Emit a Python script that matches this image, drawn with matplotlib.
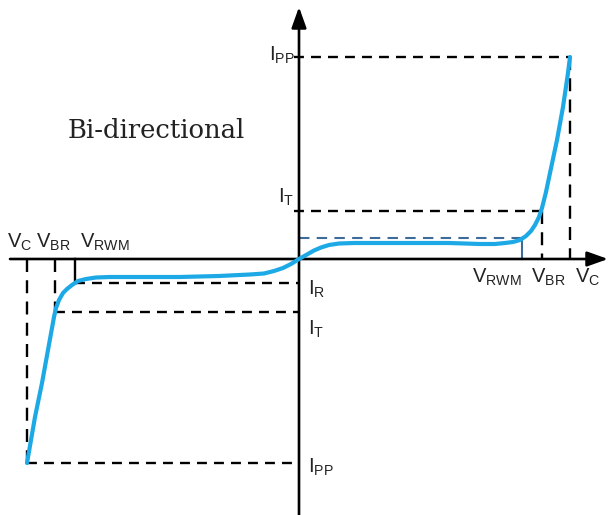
import matplotlib
matplotlib.use("Agg")
import matplotlib.pyplot as plt

plt.rcParams['font.family'] = ['Liberation Sans', 'DejaVu Sans']
plt.rcParams['mathtext.default'] = 'regular'

# ---- data (voltage / current in diagram units, origin at axes crossing) ----
v_levels_pos = {"VRWM": 223, "VBR": 243, "VC": 271}
v_levels_neg = {"VRWM": -224, "VBR": -244, "VC": -272}
i_levels_pos = {"IR": 21, "IT": 48, "IPP": 202}
i_levels_neg = {"IR": -24, "IT": -53, "IPP": -204}

curve_v = [-272, -264, -257, -251, -245, -243, -240, -236, -232, -227, -221,
           -213, -203, -189, -160, -120, -80, -49, -35, -25, -16, -8, 0,
           8, 15, 22, 30, 40, 55, 100, 150, 181, 196, 206, 214, 221, 227,
           232, 236, 240, 243, 247, 251, 258, 264, 269, 271]
curve_i = [-204, -158, -124, -91, -58, -49, -41, -34, -30, -26, -22,
           -20, -18.5, -18, -18, -18, -17, -15.5, -14.5, -12, -9, -5, 0,
           4.5, 8.5, 11.5, 14, 15.5, 16, 16, 16, 15, 15, 16, 17, 19, 23,
           28, 34, 42, 51, 67, 86, 119, 152, 186, 202]

fig = plt.figure(figsize=(6.09, 5.15), dpi=100)
ax = fig.add_axes([0, 0, 1, 1])
ax.set_xlim(-299, 310)
ax.set_ylim(-256, 259)
ax.axis('off')

black = 'k'
dash = (0, (4.2, 3.0))
vdash = (0, (5.5, 3.5))
lw_d = 1.7

# axes with arrows
ax.annotate('', xy=(309, 0), xytext=(-289, 0),
            arrowprops=dict(arrowstyle='-|>,head_length=0.7,head_width=0.25',
                            lw=1.9, color=black, mutation_scale=18,
                            shrinkA=0, shrinkB=0))
ax.annotate('', xy=(0, 252), xytext=(0, -260),
            arrowprops=dict(arrowstyle='-|>,head_length=0.7,head_width=0.25',
                            lw=1.9, color=black, mutation_scale=18,
                            shrinkA=0, shrinkB=0))

# positive side reference lines
vp, ip = v_levels_pos, i_levels_pos
ax.plot([-5, vp["VC"]], [ip["IPP"], ip["IPP"]], color=black, lw=lw_d, ls=dash)
ax.plot([vp["VC"], vp["VC"]], [ip["IPP"], 0], color=black, lw=lw_d, ls=vdash)
ax.plot([-5, vp["VBR"]], [ip["IT"], ip["IT"]], color=black, lw=lw_d, ls=dash)
ax.plot([vp["VBR"], vp["VBR"]], [ip["IT"], 0], color=black, lw=lw_d, ls=vdash)
blue_dark = '#3D6B9A'
ax.plot([0, vp["VRWM"]], [ip["IR"], ip["IR"]], color=blue_dark, lw=1.5, ls=(0, (5, 3.5)))
ax.plot([vp["VRWM"], vp["VRWM"]], [ip["IR"], 0], color=blue_dark, lw=1.5)

# negative side reference lines
vn, ineg = v_levels_neg, i_levels_neg
ax.plot([vn["VC"], 0], [ineg["IPP"], ineg["IPP"]], color=black, lw=lw_d, ls=dash)
ax.plot([vn["VC"], vn["VC"]], [0, ineg["IPP"]], color=black, lw=lw_d, ls=vdash)
ax.plot([vn["VBR"], 0], [ineg["IT"], ineg["IT"]], color=black, lw=lw_d, ls=dash)
ax.plot([vn["VBR"], vn["VBR"]], [0, ineg["IT"]], color=black, lw=lw_d, ls=vdash)
ax.plot([vn["VRWM"], 0], [ineg["IR"], ineg["IR"]], color=black, lw=lw_d, ls=dash)
ax.plot([vn["VRWM"], vn["VRWM"]], [0, ineg["IR"]], color=black, lw=lw_d)

# I-V curve
ax.plot(curve_v, curve_i, color='#1CA9E6', lw=3.0, solid_capstyle='round',
        solid_joinstyle='round', zorder=5)

# labels
fs = 14.5
tc = '#222222'
ax.text(-292, 11, r'$V_C$', fontsize=fs, color=tc, ha='left', va='baseline')
ax.text(-263, 11, r'$V_{BR}$', fontsize=fs, color=tc, ha='left', va='baseline')
ax.text(-219, 11, r'$V_{RWM}$', fontsize=fs, color=tc, ha='left', va='baseline')
ax.text(173, -24, r'$V_{RWM}$', fontsize=fs, color=tc, ha='left', va='baseline')
ax.text(232, -24, r'$V_{BR}$', fontsize=fs, color=tc, ha='left', va='baseline')
ax.text(276, -24, r'$V_C$', fontsize=fs, color=tc, ha='left', va='baseline')
ax.text(9, -36, r'$I_R$', fontsize=fs, color=tc, ha='left', va='baseline')
ax.text(9, -76, r'$I_T$', fontsize=fs, color=tc, ha='left', va='baseline')
ax.text(9, -214, r'$I_{PP}$', fontsize=fs, color=tc, ha='left', va='baseline')
ax.text(-21, 56, r'$I_T$', fontsize=fs, color=tc, ha='left', va='baseline')
ax.text(-30, 198, r'$I_{PP}$', fontsize=fs, color=tc, ha='left', va='baseline')

ax.text(-231, 121, 'Bi-directional', fontsize=18.6, family='DejaVu Serif',
        color='#222222', ha='left', va='baseline')

fig.savefig('out.png', dpi=100)
